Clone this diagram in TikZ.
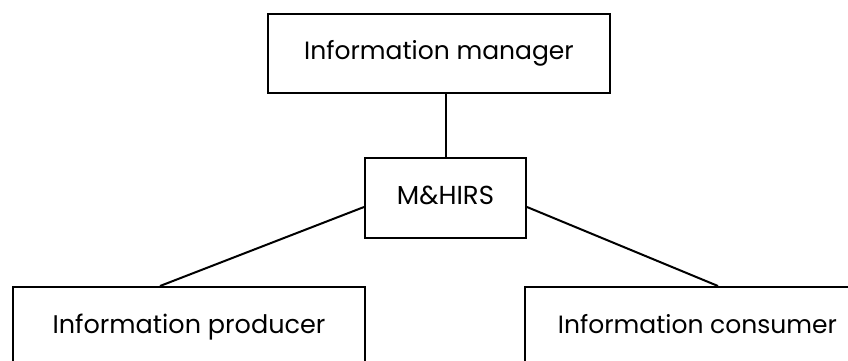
\documentclass[tikz,border=0pt]{standalone}
\usepackage{fontspec}
\setmainfont{Poppins}
\begin{document}
\begin{tikzpicture}[x=1pt,y=-1pt,
  box/.style={draw=black, line width=2pt, fill=white, rectangle, inner sep=0pt,
              text height=1.25em, text depth=0pt},
  link/.style={draw=black, line width=2pt}]
\useasboundingbox (0,0) rectangle (848,360);
\clip (0,0) rectangle (848,360);
\fill[white] (0,0) rectangle (848,360);

% boxes
\node[box, minimum width=342pt, minimum height=79pt, font=\fontsize{25}{30}\selectfont] (mgr) at (439,53.5) {Information manager};
\node[box, minimum width=161pt, minimum height=80pt, font=\fontsize{26}{30}\selectfont] (mid) at (445.5,198) {M\&HIRS};
\node[box, minimum width=352pt, minimum height=80pt, font=\fontsize{25.5}{30}\selectfont] (prod) at (189,327) {Information producer};
\node[box, minimum width=345pt, minimum height=80pt, font=\fontsize{25}{30}\selectfont] (cons) at (697.5,327) {Information consumer};

% connectors
\draw[link] (mid.north) -- (mid.north |- mgr.south);
\draw[link] ([yshift=-9pt]mid.west) -- ([xshift=-29pt]prod.north);
\draw[link] ([yshift=-9pt]mid.east) -- ([xshift=20.5pt]cons.north);
\end{tikzpicture}
\end{document}
